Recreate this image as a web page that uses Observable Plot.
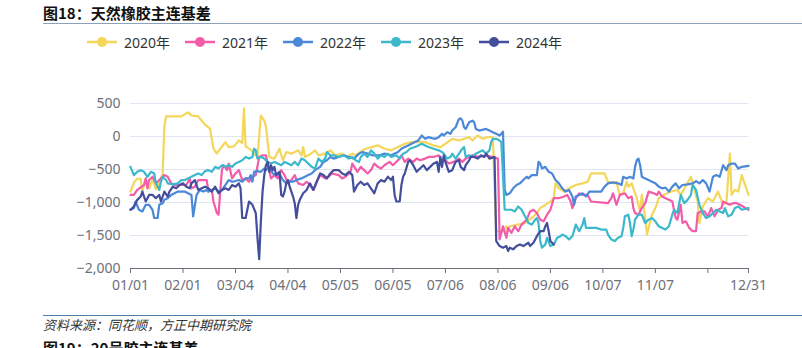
<!DOCTYPE html>
<html>
<head>
<meta charset="utf-8">
<script src="https://cdn.jsdelivr.net/npm/d3@7"></script>
<script src="https://cdn.jsdelivr.net/npm/@observablehq/plot@0.6"></script>
<style>
  html, body { margin: 0; padding: 0; background: #fff; }
  #page { position: relative; width: 802px; height: 348px; overflow: hidden; font-family: "Noto Sans", "Noto Sans CJK SC", sans-serif; }
  .title { position: absolute; left: 43px; font-size: 15px; font-weight: bold; color: #111; font-family: "Noto Sans CJK SC", sans-serif; line-height: 18px; white-space: nowrap; }
  .hline { position: absolute; left: 43px; width: 759px; height: 1px; }
  .source { position: absolute; left: 43px; top: 317px; font-size: 13px; font-style: italic; color: #333; font-family: "Noto Sans CJK SC", sans-serif; line-height: 16px; }
  .leg { position: absolute; top: 34px; height: 16px; display: flex; align-items: center; font-size: 14px; color: #333; font-family: "Noto Sans", "Noto Sans CJK SC", sans-serif; white-space: nowrap; }
  .leg svg { margin-right: 7px; }
  #chart { position: absolute; left: 0; top: 90px; }
</style>
</head>
<body>
<div id="page">
  <div class="title" style="top:4px">图18：天然橡胶主连基差</div>
  <div class="hline" style="top:23px;background:#8aa3bb"></div>
  <div id="legend"></div>
  <div id="chart"></div>
  <div class="hline" style="top:315px;background:#4f7ca8"></div>
  <div class="source">资料来源：同花顺，方正中期研究院</div>
  <div class="title" style="top:339px">图19：20号胶主连基差</div>
</div>
<script>
// ---- data (day index in year, basis value) ----
const seriesNames = ["2020年", "2021年", "2022年", "2023年", "2024年"];
const seriesColors = ["#F4D65A", "#F25CA8", "#4B88D8", "#3CB8CD", "#434E9C"];
const tickDays = [0, 31, 62, 93, 124, 155, 186, 217, 248, 279, 310, 341, 365];
const tickLabels = ["01/01", "02/01", "03/04", "04/04", "05/05", "06/05", "07/06", "08/06", "09/06", "10/07", "11/07", "", "12/31"];
const yTicks = [500, 0, -500, -1000, -1500, -2000];

const s2020 = [[0,-835],[2,-700],[4,-640],[6,-640],[7,-835],[9,-640],[11,-790],[13,-650],[15,-800],[17,-700],[19,-560],[20,150],[21,305],[25,305],[30,305],[34,365],[36,320],[40,305],[42,240],[44,180],[46,140],[47,115],[49,-185],[51,-260],[53,-185],[56,-85],[58,-160],[61,-150],[64,-60],[66,-100],[67,425],[68,-150],[71,-200],[73,-260],[75,-310],[77,315],[79,240],[80,150],[82,-310],[85,-335],[88,-185],[90,-360],[92,-235],[95,-260],[99,-210],[101,-285],[102,-160],[103,-310],[106,-270],[109,-210],[111,-285],[115,-260],[118,-210],[121,-285],[125,-260],[128,-310],[131,-260],[133,-285],[137,-210],[139,-185],[146,-135],[150,-185],[154,-210],[158,-160],[162,-110],[166,-85],[170,-80],[174,-85],[179,-135],[183,-160],[186,-110],[190,-35],[194,-60],[200,-10],[202,-60],[205,15],[208,-35],[211,-10],[214,-10],[216,-1435],[220,-1435],[222,-1360],[223,-1435],[224,-1360],[229,-1335],[233,-1310],[237,-1235],[240,-1160],[242,-1085],[245,-1035],[248,-985],[250,-935],[251,-710],[253,-785],[256,-835],[259,-785],[263,-735],[267,-710],[270,-685],[272,-560],[277,-560],[280,-560],[282,-685],[286,-710],[287,-685],[289,-885],[291,-860],[293,-685],[294,-760],[296,-710],[299,-935],[301,-1135],[302,-885],[304,-1235],[305,-1485],[308,-1185],[310,-1085],[312,-935],[315,-885],[319,-835],[323,-810],[325,-885],[331,-610],[335,-985],[336,-1310],[338,-1060],[341,-935],[344,-985],[347,-835],[350,-1035],[352,-985],[354,-260],[355,-885],[357,-810],[359,-835],[361,-585],[365,-885]];

const s2021 = [[0,-885],[2,-885],[4,-810],[8,-735],[9,-635],[10,-785],[11,-660],[13,-610],[15,-710],[17,-660],[20,-585],[22,-610],[24,-710],[26,-735],[33,-735],[35,-635],[36,-785],[38,-760],[40,-660],[45,-660],[46,-835],[48,-810],[49,-985],[51,-1160],[52,-1185],[53,-835],[54,-510],[55,-435],[57,-510],[58,-410],[60,-635],[62,-560],[64,-510],[66,-660],[68,-635],[70,-685],[72,-610],[74,-585],[76,-310],[78,-285],[80,-285],[81,-410],[83,-635],[85,-585],[87,-635],[89,-510],[91,-585],[93,-710],[95,-660],[97,-585],[99,-710],[102,-735],[104,-685],[106,-735],[108,-810],[110,-685],[112,-585],[115,-635],[117,-610],[119,-560],[123,-585],[125,-635],[127,-610],[130,-535],[131,-410],[134,-535],[136,-460],[138,-510],[140,-560],[142,-510],[144,-410],[146,-460],[148,-485],[150,-435],[153,-385],[155,-435],[158,-360],[160,-285],[162,-385],[164,-335],[167,-385],[169,-335],[171,-360],[174,-335],[176,-310],[179,-310],[182,-285],[184,-385],[186,-360],[188,-410],[191,-385],[194,-335],[196,-385],[198,-335],[200,-310],[202,-285],[206,-310],[210,-285],[214,-310],[217,-335],[218,-1560],[220,-1360],[222,-1535],[223,-1385],[225,-1460],[227,-1360],[229,-1435],[231,-1335],[233,-1285],[234,-1260],[236,-1135],[238,-1110],[240,-1160],[242,-1260],[244,-1285],[246,-1185],[248,-1110],[250,-935],[253,-935],[256,-910],[258,-885],[260,-985],[261,-1085],[263,-935],[265,-860],[267,-885],[270,-885],[272,-985],[282,-1010],[284,-935],[285,-860],[287,-1035],[289,-885],[292,-860],[294,-935],[296,-910],[297,-1085],[298,-1160],[300,-1185],[302,-1085],[304,-1010],[306,-835],[309,-860],[311,-885],[312,-835],[314,-910],[316,-935],[318,-960],[320,-985],[322,-1235],[323,-1260],[325,-1035],[326,-1310],[328,-1285],[330,-1385],[332,-1435],[334,-1435],[335,-1160],[337,-1135],[339,-1135],[341,-1210],[343,-1085],[345,-1210],[347,-1110],[349,-1085],[350,-985],[352,-1010],[354,-1035],[356,-1010],[358,-1010],[360,-1035],[365,-1110]];

const s2022 = [[0,-1110],[2,-1085],[3,-985],[5,-1110],[7,-1135],[9,-1035],[11,-1035],[13,-1110],[14,-1235],[16,-1235],[17,-1035],[19,-1010],[20,-960],[22,-935],[24,-885],[26,-860],[28,-835],[32,-835],[34,-860],[36,-885],[37,-1210],[39,-885],[41,-810],[43,-835],[45,-810],[46,-835],[48,-810],[50,-785],[52,-835],[54,-810],[56,-735],[58,-660],[60,-685],[62,-675],[64,-660],[66,-685],[68,-635],[70,-635],[71,-585],[72,-685],[73,-535],[75,-525],[77,-535],[79,-485],[80,-510],[82,-460],[84,-560],[86,-585],[88,-560],[90,-660],[92,-710],[94,-685],[96,-685],[98,-660],[101,-635],[103,-610],[105,-585],[107,-560],[109,-510],[112,-460],[114,-385],[116,-360],[118,-310],[120,-335],[123,-310],[126,-285],[129,-310],[132,-335],[135,-260],[137,-235],[140,-260],[143,-285],[147,-285],[150,-260],[154,-285],[158,-235],[160,-185],[162,-160],[164,-135],[166,-110],[168,-85],[170,-60],[172,15],[174,-35],[176,-10],[178,-25],[180,-35],[182,-10],[184,40],[185,15],[187,65],[189,40],[190,90],[192,140],[194,265],[195,275],[196,240],[197,140],[198,115],[200,215],[202,240],[203,215],[204,115],[206,90],[210,115],[212,90],[214,65],[216,40],[218,15],[219,40],[220,75],[221,-810],[222,-885],[224,-860],[226,-785],[228,-735],[230,-710],[232,-660],[234,-610],[235,-635],[237,-585],[240,-585],[241,-385],[242,-410],[243,-485],[245,-460],[247,-535],[249,-560],[251,-660],[253,-710],[255,-785],[257,-835],[259,-810],[261,-910],[262,-1035],[263,-910],[265,-885],[267,-860],[269,-910],[271,-835],[274,-835],[278,-835],[280,-760],[282,-710],[285,-695],[288,-710],[290,-735],[291,-610],[293,-635],[295,-610],[297,-635],[298,-460],[299,-360],[300,-335],[301,-435],[302,-610],[304,-635],[306,-660],[308,-685],[310,-710],[312,-760],[314,-785],[316,-775],[318,-835],[320,-760],[322,-710],[324,-785],[326,-735],[329,-725],[332,-710],[334,-675],[336,-710],[338,-660],[340,-710],[342,-835],[344,-610],[346,-585],[348,-610],[350,-435],[352,-510],[353,-435],[355,-410],[357,-410],[359,-485],[361,-460],[365,-445]];

const s2023 = [[0,-460],[2,-585],[4,-535],[6,-510],[8,-535],[10,-610],[12,-535],[14,-560],[15,-710],[17,-810],[18,-685],[19,-610],[21,-660],[22,-710],[25,-725],[28,-710],[30,-660],[32,-660],[34,-635],[36,-610],[38,-585],[40,-560],[42,-585],[44,-525],[46,-510],[48,-535],[50,-460],[52,-485],[54,-435],[56,-460],[58,-435],[60,-460],[62,-410],[64,-385],[66,-360],[68,-310],[70,-335],[72,-310],[73,-185],[74,-210],[75,-335],[77,-310],[79,-335],[81,-385],[83,-410],[85,-385],[87,-410],[89,-435],[91,-385],[93,-410],[95,-435],[97,-385],[99,-435],[101,-335],[103,-360],[105,-410],[107,-460],[109,-485],[111,-335],[113,-385],[115,-335],[116,-235],[118,-285],[120,-285],[123,-310],[126,-285],[129,-335],[131,-310],[133,-360],[135,-385],[136,-310],[138,-260],[140,-310],[142,-210],[144,-260],[146,-335],[148,-285],[150,-310],[152,-260],[154,-310],[157,-285],[159,-335],[161,-260],[163,-235],[165,-185],[168,-160],[170,-135],[172,-110],[174,-135],[176,-160],[179,-185],[182,-210],[184,-235],[185,-260],[187,-335],[189,-310],[190,-260],[192,-335],[194,-260],[196,-185],[197,-160],[198,-310],[200,-285],[202,-310],[204,-260],[206,-235],[208,-210],[210,-260],[212,-210],[213,-85],[214,-35],[216,-35],[218,-60],[219,-85],[220,-585],[221,-1110],[225,-1110],[227,-1135],[229,-1060],[231,-1110],[233,-1210],[235,-1310],[237,-1335],[239,-1260],[240,-1235],[241,-1310],[242,-1585],[243,-1685],[245,-1635],[246,-1535],[248,-1660],[250,-1635],[252,-1535],[254,-1510],[255,-1485],[257,-1510],[259,-1560],[261,-1510],[263,-1335],[265,-1435],[267,-1335],[268,-1235],[269,-1385],[271,-1385],[275,-1385],[278,-1410],[281,-1410],[282,-1485],[284,-1560],[286,-1585],[288,-1535],[290,-1510],[291,-1385],[292,-1210],[294,-1185],[295,-1310],[296,-1510],[297,-1410],[298,-1260],[300,-1185],[302,-1185],[304,-1310],[306,-1260],[308,-1235],[310,-1285],[312,-1360],[314,-1385],[316,-1410],[318,-1360],[320,-1185],[321,-1110],[323,-1160],[325,-885],[327,-1010],[329,-960],[331,-885],[332,-735],[334,-810],[336,-1035],[338,-1160],[340,-1235],[342,-1210],[344,-1160],[346,-1110],[348,-1135],[350,-1160],[351,-1085],[353,-1210],[355,-1185],[357,-1085],[359,-1060],[361,-1110],[365,-1085]];

const s2024 = [[0,-1110],[2,-1060],[4,-960],[6,-910],[7,-835],[9,-985],[11,-885],[13,-885],[15,-935],[17,-885],[18,-985],[20,-835],[22,-910],[23,-835],[25,-760],[27,-785],[29,-735],[31,-710],[33,-760],[35,-785],[36,-710],[38,-660],[40,-810],[42,-785],[44,-760],[46,-785],[48,-835],[50,-760],[52,-860],[54,-810],[56,-785],[58,-810],[60,-735],[62,-760],[64,-710],[65,-785],[66,-1235],[68,-1235],[70,-985],[72,-1035],[74,-1160],[75,-1535],[76,-1860],[77,-1285],[78,-835],[79,-585],[80,-435],[81,-385],[82,-535],[83,-435],[84,-510],[85,-460],[86,-585],[88,-535],[89,-885],[90,-910],[91,-835],[92,-710],[93,-660],[94,-760],[96,-910],[97,-1010],[98,-1235],[99,-1035],[100,-960],[102,-860],[104,-810],[106,-710],[108,-810],[110,-685],[112,-560],[114,-585],[116,-635],[118,-560],[120,-510],[123,-510],[125,-560],[127,-585],[129,-535],[131,-585],[132,-835],[134,-735],[136,-685],[138,-735],[140,-710],[142,-785],[144,-860],[146,-710],[148,-660],[150,-685],[152,-610],[154,-660],[155,-610],[156,-885],[157,-985],[159,-985],[160,-735],[161,-610],[162,-560],[164,-385],[165,-360],[167,-435],[169,-535],[171,-485],[173,-435],[175,-510],[177,-460],[179,-410],[181,-385],[182,-535],[183,-310],[184,-460],[185,-285],[186,-385],[188,-535],[190,-510],[192,-385],[194,-360],[195,-460],[197,-510],[198,-435],[200,-360],[201,-310],[203,-310],[205,-335],[207,-285],[209,-310],[210,-260],[212,-335],[215,-310],[216,-1585],[218,-1660],[220,-1685],[222,-1660],[223,-1735],[224,-1685],[226,-1710],[228,-1660],[230,-1635],[232,-1660],[235,-1610],[236,-1660],[238,-1610],[240,-1510],[242,-1435],[244,-1435],[245,-1360],[246,-1310],[247,-1435],[248,-1585],[249,-1610],[250,-1635]];

const allSeries = [s2020, s2021, s2022, s2023, s2024];

// ---- legend ----
const legend = document.getElementById("legend");
seriesNames.forEach((name, i) => {
  const item = document.createElement("div");
  item.className = "leg";
  item.style.left = (87 + i * 98) + "px";
  item.innerHTML = `<svg width="30" height="14"><line x1="0" y1="7" x2="30" y2="7" stroke="${seriesColors[i]}" stroke-width="2.5"/><circle cx="15" cy="7" r="5" fill="${seriesColors[i]}"/></svg><span>${name}</span>`;
  legend.appendChild(item);
});

// ---- chart ----
const rows = [];
allSeries.forEach((s, i) => s.forEach(([d, v]) => rows.push({series: seriesNames[i], day: d, value: v})));

const labelOf = new Map(tickDays.map((d, i) => [d, tickLabels[i]]));

const chart = Plot.plot({
  width: 802,
  height: 210,
  marginLeft: 130,
  marginRight: 54,
  marginTop: 13,
  marginBottom: 32,
  style: {fontFamily: "'Noto Sans', sans-serif", fontSize: "14px", background: "transparent"},
  x: {domain: [0, 365]},
  y: {domain: [-2000, 500]},
  marks: [
    Plot.gridY(yTicks.filter(t => t > -2000), {stroke: "#E0E6F1", strokeOpacity: 1}),
    Plot.axisY(yTicks, {tickSize: 0, tickPadding: 10, label: null, fill: "#6E7079", fontSize: 14}),
    ...seriesNames.map((name, i) =>
      Plot.line(rows.filter(r => r.series === name), {x: "day", y: "value", stroke: seriesColors[i], strokeWidth: 2.2, strokeLinejoin: "round"})
    ),
    Plot.ruleY([-2000], {stroke: "#6E7079", strokeWidth: 1}),
    Plot.axisX(tickDays, {tickSize: 5, tickPadding: 7, stroke: "#6E7079", fill: "#6E7079", label: null, fontSize: 14, tickFormat: d => labelOf.get(d)})
  ]
});
document.getElementById("chart").appendChild(chart);
</script>
</body>
</html>
